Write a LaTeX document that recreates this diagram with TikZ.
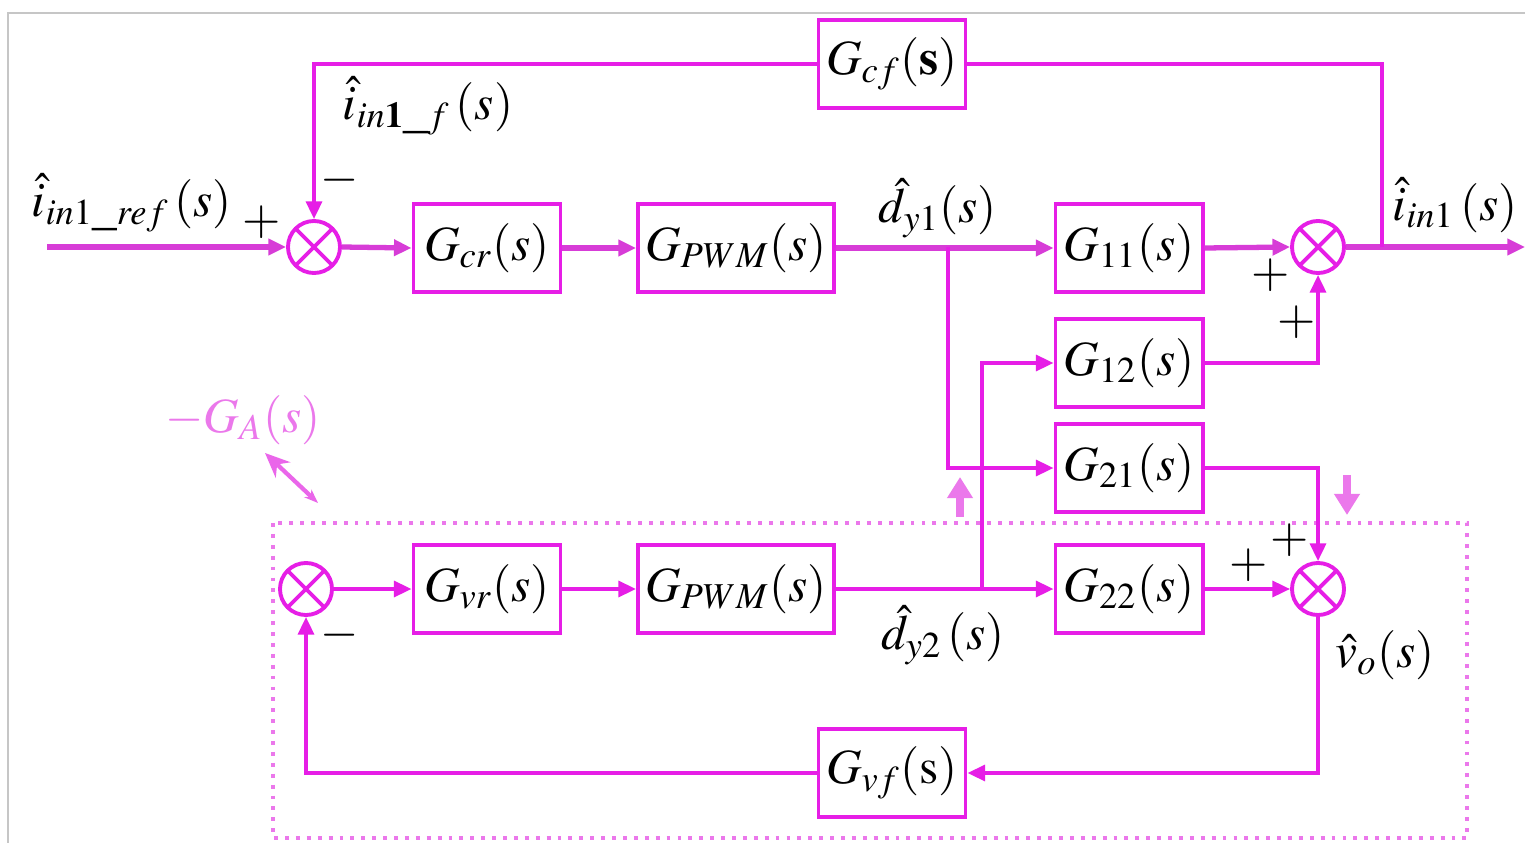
\documentclass[tikz,border=0pt]{standalone}
\usepackage{mathptmx}
\usepackage{fontspec}
\setmainfont{Liberation Serif}
\usetikzlibrary{arrows.meta}
\definecolor{mag}{RGB}{230,30,230}
\definecolor{lmag}{RGB}{235,120,235}
\definecolor{dmag}{RGB}{215,60,215}
\begin{document}
\begin{tikzpicture}[x=0.01cm,y=-0.01cm,
  font=\fontsize{14}{16}\selectfont,
  blk/.style={draw=mag,line width=1.1pt,minimum width=1.47cm,minimum height=0.88cm,inner sep=0pt,fill=white},
  wblk/.style={blk,minimum width=1.96cm},
  sumn/.style={draw=mag,circle,line width=1.1pt,minimum size=0.52cm,inner sep=0pt,
     path picture={\draw[mag,line width=1.1pt] (path picture bounding box.north west)--(path picture bounding box.south east)
       (path picture bounding box.north east)--(path picture bounding box.south west);}},
  wire/.style={draw=mag,line width=1pt},
  twire/.style={draw=dmag,line width=1.5pt},
  arr/.style={-{Triangle[length=5pt,width=4.5pt]}},
  sign/.style={inner sep=0pt,font=\fontsize{14}{16}\selectfont},
  lbl/.style={inner sep=1pt},
]
\useasboundingbox (0,0) rectangle (1525,843);
\fill[white] (0,0) rectangle (1525,843);
\draw[gray!45,line width=0.6pt] (8,843) -- (8,13) -- (1525,13);

% dotted group
\draw[lmag,line width=1.1pt,dotted] (273,523) rectangle (1467,838);

% blocks
\node[sumn] (s1) at (314,247) {};
\node[blk] (gcr) at (487,248) {$G_{cr}(s)$};
\node[wblk] (gp1) at (736,248) {$G_{PWM}(s)$};
\node[blk] (g11) at (1129,248) {$G_{11}(s)$};
\node[sumn] (s2) at (1318,247) {};
\node[blk] (gcf) at (892,64) {$G_{cf}(\mathbf{s})$};
\node[blk] (g12) at (1129,363) {$G_{12}(s)$};
\node[blk] (g21) at (1129,468) {$G_{21}(s)$};
\node[sumn] (s4) at (306,589) {};
\node[blk] (gvr) at (487,589) {$G_{vr}(s)$};
\node[wblk] (gp2) at (736,589) {$G_{PWM}(s)$};
\node[blk] (g22) at (1129,589) {$G_{22}(s)$};
\node[sumn] (s3) at (1318,589) {};
\node[blk] (gvf) at (892,773) {$G_{vf}(\mathrm{s})$};

% coordinates
\coordinate (in) at (47,247);
\coordinate (out) at (1525,247);
\coordinate (j1) at (1382,247);
\coordinate (jd1) at (948,247);
\coordinate (jd2) at (982,589);

% top forward path
\draw[twire,arr] (in) -- (s1.west);
\draw[twire,arr] (s1.east) -- (gcr.west);
\draw[twire,arr] (gcr.east) -- (gp1.west);
\draw[twire,arr] (gp1.east) -- (g11.west);
\draw[twire,arr] (g11.east) -- (s2.west);
\draw[twire,arr] (s2.east) -- (out);
% feedback current
\draw[wire] (j1) |- (gcf.east);
\draw[wire,arr] (gcf.west) -| (s1.north);
% cross couplings
\draw[wire,arr] (jd1) |- (g21.west);
\draw[wire,arr] (jd2) |- (g12.west);
\draw[wire,arr] (g12.east) -| (s2.south);
\draw[wire,arr] (g21.east) -| (s3.north);
% bottom forward path
\draw[wire,arr] (s4.east) -- (gvr.west);
\draw[wire,arr] (gvr.east) -- (gp2.west);
\draw[wire,arr] (gp2.east) -- (g22.west);
\draw[wire,arr] (g22.east) -- (s3.west);
\draw[wire,arr] (s3.south) |- (gvf.east);
\draw[wire,arr] (gvf.west) -| (s4.south);

% labels
\node[lbl] (lref) at (132,203) {$\hat{i}_{in1\_ref}\,(s)$};
\node[sign] (p1) at (262,222) {$+$};
\node[lbl] (lf) at (428,106) {$\hat{i}_{in\mathbf{1}\_f}\,(s)$};
\node[sign] (m1) at (340,180) {$-$};
\node[lbl] (ld1) at (938,208) {$\hat{d}_{y1}(s)$};
\node[lbl] (lout) at (1455,205) {$\hat{i}_{in1}\,(s)$};
\node[sign] (p2) at (1271,275) {$+$};
\node[sign] (p3) at (1297,322) {$+$};
\node[sign] (p4) at (1290,540) {$+$};
\node[sign] (p5) at (1249,565) {$+$};
\node[lbl] (ld2) at (943,635) {$\hat{d}_{y2}\,(s)$};
\node[lbl] (lvo) at (1385,655) {$\hat{v}_{o}(s)$};
\node[sign] (m2) at (340,635) {$-$};
\node[lbl,text=lmag] (ga) at (243,420) {$-G_{A}(s)$};

% annotation arrows
\coordinate (gat) at (318,503);
\coordinate (gah) at (265,453);
\draw[lmag!80!mag,line width=1.2pt,{Stealth[length=4pt,width=3pt]}-{Stealth[length=7pt,width=6pt]}] (gat) -- (gah);
\coordinate (ua1) at (960,517);
\coordinate (ua2) at (960,477);
\draw[lmag,line width=2.2pt,-{Triangle[length=6pt,width=7pt]}] (ua1) -- (ua2);
\coordinate (da1) at (1347,475);
\coordinate (da2) at (1347,515);
\draw[lmag,line width=2.2pt,-{Triangle[length=6pt,width=7pt]}] (da1) -- (da2);
\end{tikzpicture}
\end{document}
